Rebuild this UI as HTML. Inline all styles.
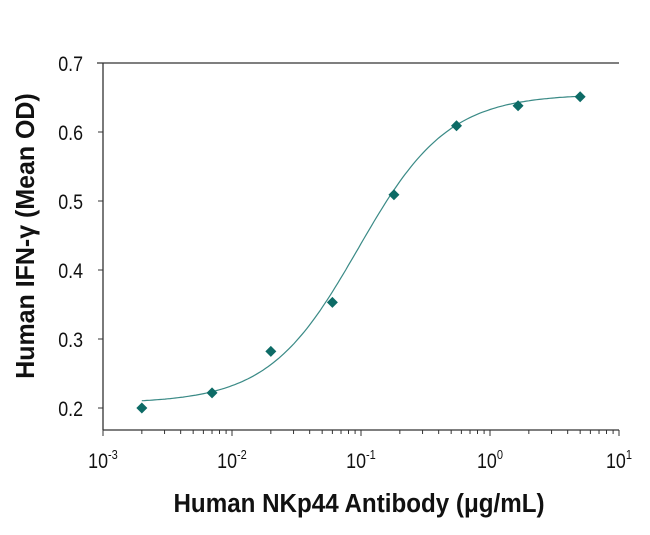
<!DOCTYPE html>
<html><head><meta charset="utf-8"><style>
html,body{margin:0;padding:0;background:#fff;}
svg text{font-family:"Liberation Sans",sans-serif;}
</style></head><body>
<svg id="chart" width="650" height="530" xmlns="http://www.w3.org/2000/svg">
<g id="axes"></g>
<g id="marks"></g>
<text transform="translate(34,236) rotate(-90) scale(0.96,1)" text-anchor="middle" font-size="26" font-weight="bold" fill="#111">Human IFN-γ (Mean OD)</text>
<text transform="translate(359,512) scale(0.93,1)" text-anchor="middle" font-size="26" font-weight="bold" fill="#111">Human NKp44 Antibody (μg/mL)</text>
</svg>
<script>
const concentrations = [0.002, 0.007, 0.02, 0.06, 0.18, 0.55, 1.65, 5];
const odValues = [0.200, 0.222, 0.282, 0.353, 0.509, 0.609, 0.638, 0.651];
const yTicks = [0.2, 0.3, 0.4, 0.5, 0.6, 0.7];
const xDecades = [-3, -2, -1, 0, 1];
const fitBottom = [0.207];
const fitTop = [0.655];
const fitEC50 = [0.095];
const fitHill = [1.25];

const L=103, R=619, T=63, B=430;
const X = v => L + (Math.log10(v) + 3) / 4 * (R - L);
const Y = v => 408 - (v - 0.2) / 0.1 * 69;
const NS = "http://www.w3.org/2000/svg";
function mk(tag, attrs, parent){const e=document.createElementNS(NS,tag);for(const k in attrs)e.setAttribute(k,attrs[k]);parent.appendChild(e);return e;}
const axes=document.getElementById('axes'), marks=document.getElementById('marks');
let e;
e=mk('line',{x1:L,y1:T,x2:L,y2:B,stroke:'#333','stroke-width':1.3},axes);


e=mk('line',{x1:L,y1:B,x2:R,y2:B,stroke:'#333','stroke-width':1.3},axes);


e=mk('line',{x1:L-6,y1:T,x2:R,y2:T,stroke:'#333','stroke-width':1.3},axes);


yTicks.forEach(t=>{
  e=mk('line',{x1:L-5,y1:Y(t),x2:L,y2:Y(t),stroke:'#333'},axes);
  
  
  e=mk('text',{x:0,y:0,'text-anchor':'end','font-size':21,fill:'#111',transform:`translate(${L-20},${Y(t)+8}) scale(0.85,1)`},axes);
  e.textContent=t.toFixed(1);
  
  
});
xDecades.forEach((d,i)=>{
  const px=X(Math.pow(10,d));
  e=mk('line',{x1:px,y1:B,x2:px,y2:B+6,stroke:'#333'},axes);
  
  
  if(i<xDecades.length-1){for(let m=2;m<10;m++){const mx=X(m*Math.pow(10,d));
    e=mk('line',{x1:mx,y1:B,x2:mx,y2:B+4,stroke:'#333'},axes);
    
    }}
  e=mk('text',{x:0,y:0,'text-anchor':'middle','font-size':21,fill:'#111',transform:`translate(${px},${B+38}) scale(0.85,1)`},axes);
  e.innerHTML='10<tspan dy="-9" font-size="13">'+d+'</tspan>';
  
  
});
let pts=[];
for(let lx=Math.log10(concentrations[0]); lx<=Math.log10(concentrations[concentrations.length-1])+1e-9; lx+=0.02){
  const c=Math.pow(10,lx);
  const v=fitBottom[0]+(fitTop[0]-fitBottom[0])/(1+Math.pow(fitEC50[0]/c,fitHill[0]));
  pts.push(X(c).toFixed(1)+','+Y(v).toFixed(1));
}
e=mk('polyline',{points:pts.join(' '),fill:'none',stroke:'#3a8a86','stroke-width':1.2},marks);


concentrations.forEach((c,i)=>{
  const px=X(c), py=Y(odValues[i]), s=5.5;
  e=mk('polygon',{points:`${px},${py-s} ${px+s},${py} ${px},${py+s} ${px-s},${py}`,fill:'#0d6b66'},marks);
  
  
});
</script>
</body></html>
